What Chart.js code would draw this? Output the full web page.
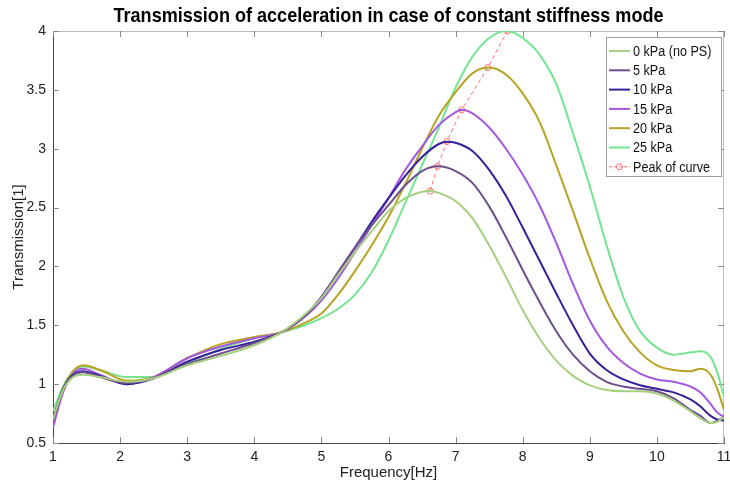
<!DOCTYPE html>
<html>
<head>
<meta charset="utf-8">
<script src="https://cdn.jsdelivr.net/npm/chart.js@4.4.1/dist/chart.umd.min.js"></script>
<style>
  body { margin: 0; background: #fff; }
  #wrap { width: 730px; height: 492px; }
</style>
</head>
<body>
<div id="wrap"><canvas id="chart" width="730" height="492"></canvas></div>
<script>
// frequency grid [Hz] shared by all the curves
const freq = [1, 1.15, 1.3, 1.45, 1.7, 2.1, 2.5, 3, 3.5, 4, 4.4, 4.75, 5, 5.25, 5.5, 5.75, 6, 6.25, 6.5, 6.75,
  7, 7.25, 7.5, 7.75, 8, 8.25, 8.5, 8.75, 9, 9.25, 9.5, 9.75, 10, 10.25, 10.5, 10.65, 10.8, 10.9, 11];

// transmission values
const kpa0 = [0.70, 0.95, 1.06, 1.08, 1.06, 1.02, 1.05, 1.16, 1.24, 1.33, 1.44, 1.59, 1.73, 1.93, 2.12, 2.30, 2.47, 2.58, 2.635, 2.625,
  2.555, 2.41, 2.18, 1.91, 1.63, 1.39, 1.20, 1.07, 0.99, 0.95, 0.94, 0.94, 0.92, 0.86, 0.77, 0.71, 0.67, 0.68, 0.72];
const kpa5 = [0.69, 0.95, 1.07, 1.10, 1.06, 1.01, 1.05, 1.17, 1.26, 1.35, 1.44, 1.58, 1.74, 1.95, 2.16, 2.35, 2.52, 2.69, 2.81, 2.85,
  2.81, 2.71, 2.51, 2.25, 1.97, 1.70, 1.45, 1.25, 1.11, 1.02, 0.98, 0.96, 0.94, 0.88, 0.78, 0.73, 0.67, 0.69, 0.72];
const kpa10 = [0.70, 0.96, 1.08, 1.11, 1.07, 1.00, 1.05, 1.19, 1.29, 1.36, 1.44, 1.58, 1.74, 1.95, 2.16, 2.38, 2.58, 2.77, 2.93, 3.04,
  3.05, 2.98, 2.82, 2.60, 2.33, 2.05, 1.77, 1.50, 1.26, 1.12, 1.04, 0.99, 0.96, 0.93, 0.87, 0.81, 0.73, 0.70, 0.69];
const kpa15 = [0.63, 0.93, 1.09, 1.13, 1.08, 1.00, 1.06, 1.22, 1.32, 1.39, 1.44, 1.57, 1.71, 1.90, 2.12, 2.35, 2.58, 2.82, 3.02, 3.20,
  3.31, 3.30, 3.18, 3.00, 2.78, 2.52, 2.20, 1.85, 1.54, 1.32, 1.18, 1.09, 1.04, 1.02, 0.98, 0.93, 0.83, 0.76, 0.72];
const kpa20 = [0.68, 0.96, 1.11, 1.16, 1.12, 1.03, 1.06, 1.22, 1.34, 1.40, 1.44, 1.52, 1.60, 1.76, 1.96, 2.18, 2.42, 2.70, 3.00, 3.28,
  3.48, 3.64, 3.69, 3.63, 3.47, 3.23, 2.86, 2.47, 2.07, 1.71, 1.45, 1.27, 1.16, 1.12, 1.11, 1.13, 1.08, 0.96, 0.78];
const kpa25 = [0.77, 0.98, 1.11, 1.15, 1.12, 1.06, 1.06, 1.18, 1.30, 1.39, 1.44, 1.50, 1.56, 1.64, 1.76, 1.95, 2.22, 2.54, 2.86, 3.18,
  3.52, 3.78, 3.94, 4.00, 3.94, 3.80, 3.55, 3.13, 2.68, 2.18, 1.74, 1.45, 1.31, 1.25, 1.27, 1.28, 1.23, 1.10, 0.89];

// peak of every curve
const peakFreq = [6.62, 6.73, 6.87, 7.09, 7.48, 7.77];
const peakVal = [2.64, 2.85, 3.06, 3.33, 3.69, 4.0];

const seriesNames = ['0 kPa (no PS)', '5 kPa', '10 kPa', '15 kPa', '20 kPa', '25 kPa'];
const seriesColors = ['#a6d07f', '#6d4f8e', '#3a1e9b', '#a458e0', '#b8a322', '#74e490'];
const peakColor = '#ff6f6f';

const xTicks = [1, 2, 3, 4, 5, 6, 7, 8, 9, 10, 11];
const yTicks = [0.5, 1, 1.5, 2, 2.5, 3, 3.5, 4];

const titleText = 'Transmission of acceleration in case of constant stiffness mode';
const FONT = "'Liberation Sans', Arial, sans-serif";

// put the peak point into the grid so the curve passes through the marker
function buildPoints(values, i) {
  const pts = freq.map((f, k) => ({ x: f, y: values[k] }));
  pts.push({ x: peakFreq[i], y: peakVal[i] });
  pts.sort((a, b) => a.x - b.x);
  return pts;
}

const allValues = [kpa0, kpa5, kpa10, kpa15, kpa20, kpa25];
const datasets = allValues.map((vals, i) => ({
  label: seriesNames[i],
  data: buildPoints(vals, i),
  borderColor: seriesColors[i],
  borderWidth: 2,
  pointRadius: 0,
  cubicInterpolationMode: 'monotone',
  fill: false
}));
datasets.push({
  label: 'Peak of curve',
  data: peakFreq.map((f, i) => ({ x: f, y: peakVal[i] })),
  borderColor: peakColor,
  borderWidth: 1,
  borderDash: [4, 3],
  pointRadius: 3,
  pointBorderWidth: 1,
  pointBackgroundColor: 'rgba(0,0,0,0)',
  pointBorderColor: peakColor,
  tension: 0
});

// ticks pointing inwards on all four sides, plus the light top/right frame
const frameTicks = {
  id: 'frameTicks',
  beforeDatasetsDraw(chart) {
    const { ctx, chartArea: a, scales } = chart;
    ctx.save();
    ctx.strokeStyle = '#bcbcbc';
    ctx.lineWidth = 1;
    ctx.beginPath();
    ctx.moveTo(a.left, a.top + 0.5); ctx.lineTo(a.right, a.top + 0.5);
    ctx.moveTo(a.right - 0.5, a.top); ctx.lineTo(a.right - 0.5, a.bottom);
    ctx.stroke();
    ctx.strokeStyle = '#8a8a8a';
    ctx.beginPath();
    xTicks.forEach(t => {
      const px = Math.round(scales.x.getPixelForValue(t)) + 0.5;
      ctx.moveTo(px, a.bottom); ctx.lineTo(px, a.bottom - 6);
      ctx.moveTo(px, a.top); ctx.lineTo(px, a.top + 6);
    });
    yTicks.forEach(t => {
      const py = Math.round(scales.y.getPixelForValue(t)) + 0.5;
      ctx.moveTo(a.left, py); ctx.lineTo(a.left + 6, py);
      ctx.moveTo(a.right, py); ctx.lineTo(a.right - 6, py);
    });
    ctx.stroke();
    ctx.restore();
  }
};

// condensed bold title centred over the plot area
const plotTitle = {
  id: 'plotTitle',
  afterDraw(chart) {
    const { ctx, chartArea: a } = chart;
    ctx.save();
    ctx.translate((a.left + a.right) / 2, 16);
    ctx.scale(0.86, 1);
    ctx.font = 'bold 21px ' + FONT;
    ctx.fillStyle = '#000';
    ctx.textAlign = 'center';
    ctx.textBaseline = 'middle';
    ctx.fillText(titleText, 0, 0);
    ctx.restore();
  }
};

// legend box in the top right corner
const boxLegend = {
  id: 'boxLegend',
  afterDraw(chart) {
    const ctx = chart.ctx;
    const x0 = 606, y0 = 37, w = 115, h = 139, step = 19.3;
    ctx.save();
    ctx.fillStyle = '#fff';
    ctx.fillRect(x0, y0, w, h);
    ctx.strokeStyle = '#a0a0a0';
    ctx.lineWidth = 1;
    ctx.strokeRect(x0 + 0.5, y0 + 0.5, w, h);
    ctx.font = '14px ' + FONT;
    ctx.textBaseline = 'middle';
    const labels = seriesNames.concat(['Peak of curve']);
    const colors = seriesColors.concat([peakColor]);
    labels.forEach((lab, i) => {
      const y = y0 + 14 + i * step;
      ctx.strokeStyle = colors[i];
      ctx.lineWidth = i < 6 ? 2 : 1;
      ctx.setLineDash(i < 6 ? [] : [3, 2]);
      ctx.beginPath();
      ctx.moveTo(x0 + 3, y); ctx.lineTo(x0 + 24, y);
      ctx.stroke();
      if (i === 6) {
        ctx.setLineDash([]);
        ctx.beginPath();
        ctx.arc(x0 + 13.5, y, 3, 0, Math.PI * 2);
        ctx.stroke();
      }
      ctx.fillStyle = '#111';
      ctx.save();
      ctx.translate(x0 + 27, y + 1);
      ctx.scale(0.9, 1);
      ctx.fillText(lab, 0, 0);
      ctx.restore();
    });
    ctx.restore();
  }
};

new Chart(document.getElementById('chart'), {
  type: 'line',
  data: { datasets: datasets },
  options: {
    responsive: false,
    animation: false,
    devicePixelRatio: 1,
    layout: { padding: { top: 31, right: 6, left: 0, bottom: 0 } },
    plugins: {
      legend: { display: false },
      tooltip: { enabled: false },
      title: { display: false }
    },
    scales: {
      x: {
        type: 'linear',
        min: 1, max: 11,
        afterBuildTicks: s => { s.ticks = xTicks.map(v => ({ value: v })); },
        afterFit: s => { s.height = 49; s.paddingLeft = 0; s.paddingRight = 0; },
        grid: { display: false, drawTicks: false },
        border: { display: true, color: '#444', width: 1 },
        ticks: { color: '#222', padding: 6, maxRotation: 0, font: { family: FONT, size: 14 } },
        title: {
          display: true, text: 'Frequency[Hz]', color: '#222',
          font: { family: FONT, size: 15 }, padding: { top: 0, bottom: 10 }
        }
      },
      y: {
        type: 'linear',
        min: 0.5, max: 4,
        afterBuildTicks: s => { s.ticks = yTicks.map(v => ({ value: v })); },
        afterFit: s => { s.width = 53; s.paddingTop = 0; s.paddingBottom = 0; },
        grid: { display: false, drawTicks: false },
        border: { display: true, color: '#444', width: 1 },
        ticks: { color: '#222', padding: 7, font: { family: FONT, size: 14 }, callback: v => String(v) },
        title: {
          display: true, text: 'Transmission[1]', color: '#222',
          font: { family: FONT, size: 15 }, padding: { top: 10, bottom: 0 }
        }
      }
    }
  },
  plugins: [frameTicks, plotTitle, boxLegend]
});
</script>
</body>
</html>
